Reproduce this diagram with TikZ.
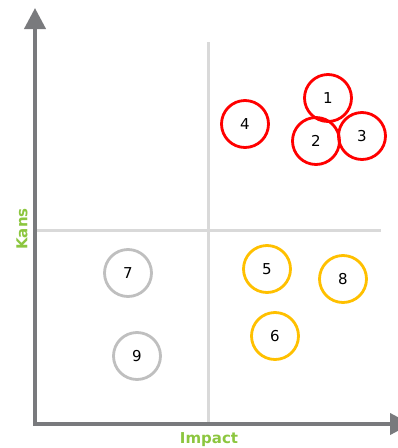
\documentclass[tikz,border=0pt]{standalone}
\usepackage{fontspec}
\setmainfont{DejaVu Sans}
\usepackage{xcolor}
\usetikzlibrary{arrows.meta, positioning}

\definecolor{axisgray}{HTML}{797A7D}
\definecolor{gridgray}{HTML}{D9D9D9}
\definecolor{labelgreen}{HTML}{8CC63F}
\definecolor{riskred}{HTML}{FF0000}
\definecolor{riskorange}{HTML}{FFC000}
\definecolor{riskgray}{HTML}{BFBFBF}

\begin{document}
\begin{tikzpicture}[
  x=1pt, y=-1pt,
  axis/.style={draw=axisgray, line width=4pt, line join=miter},
  grid line/.style={draw=gridgray, line width=3pt},
  risk/.style={circle, draw, line width=2.8pt, minimum size=47pt, inner sep=0pt,
    font=\fontsize{15}{17}\selectfont},
  high/.style={risk, draw=riskred},
  medium/.style={risk, draw=riskorange},
  low/.style={risk, draw=riskgray},
  axis label/.style={text=labelgreen, font=\fontsize{15}{17}\selectfont\bfseries}
]
\useasboundingbox (0,0) rectangle (398,448);

% Axes
\coordinate (origin) at (35,424);
\coordinate (ytop) at (35,8);
\coordinate (xend) at (411,424);
\draw[grid line] (208,42) -- (208,424);
\draw[grid line] (35,230) -- (381,230);
\draw[axis, {Triangle[length=21pt,width=21pt]}-{Triangle[length=21pt,width=21pt]}]
  (ytop) -- (origin) -- (xend);

% Labels
\node[axis label, rotate=90] (kans) at (22,229) {Kans};
\node[axis label] (impact) at (209,440) {Impact};

% Nodes
\node[high] (r1) at (328,98) {1};
\node[high] (r2) at (316,141) {2};
\node[high] (r3) at (362,136) {3};
\node[high] (r4) at (245,124) {4};
\node[medium] (r5) at (267,269) {5};
\node[medium] (r6) at (275,336) {6};
\node[low] (r7) at (128,273) {7};
\node[medium] (r8) at (343,279) {8};
\node[low] (r9) at (137,356) {9};

\end{tikzpicture}
\end{document}
